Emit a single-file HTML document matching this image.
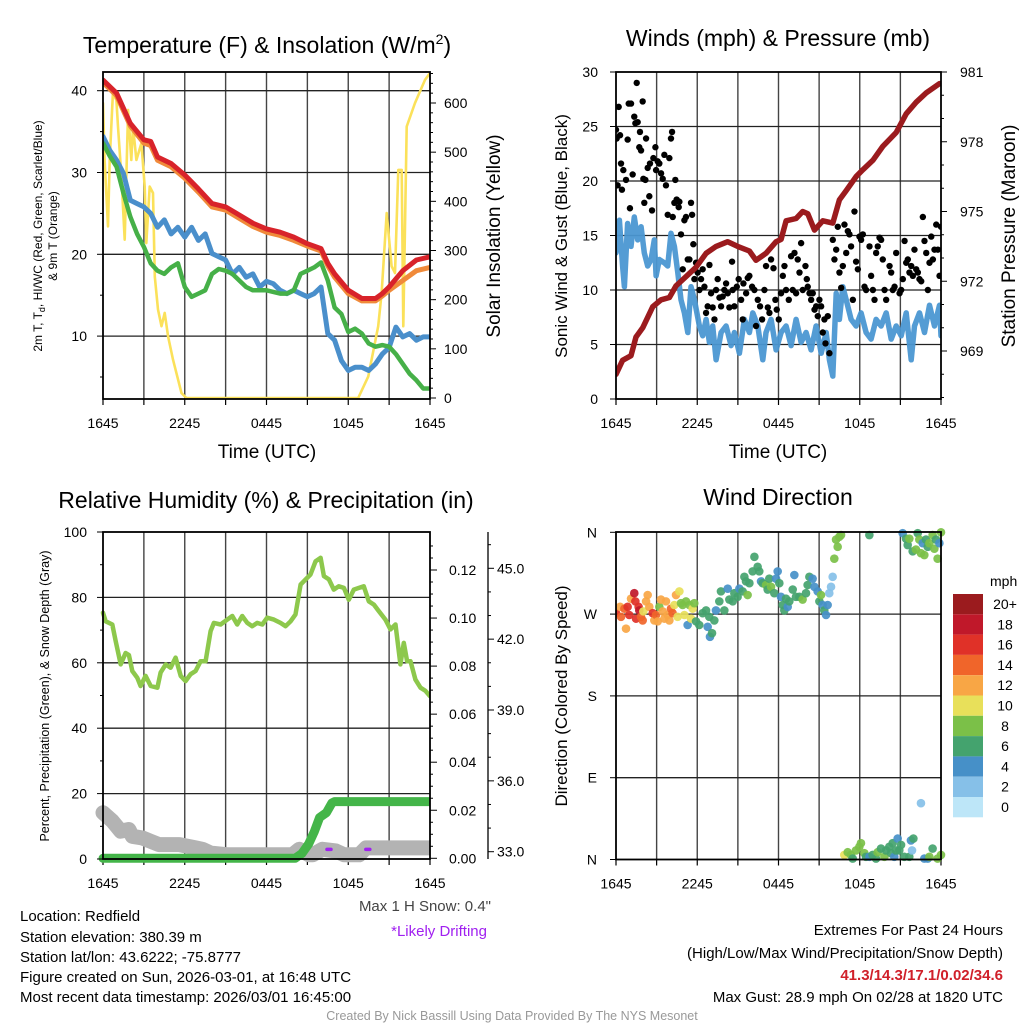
<!DOCTYPE html>
<html><head><meta charset="utf-8"><style>
html,body{margin:0;padding:0;background:#fff;}
svg{display:block;font-family:"Liberation Sans",Arial,sans-serif;}
</style></head><body>
<svg id="c" width="1024" height="1024" viewBox="0 0 1024 1024" xmlns="http://www.w3.org/2000/svg">
<rect width="1024" height="1024" fill="#fff"/>
<g id="g1"></g>
<g id="g2"></g>
<g id="g3"></g>
<g id="g4"></g>
<g font-size="23" text-anchor="middle" fill="#000">
<text x="267" y="53">Temperature (F) &amp; Insolation (W/m<tspan font-size="14" dy="-9">2</tspan><tspan dy="9">)</tspan></text>
<text x="778" y="46">Winds (mph) &amp; Pressure (mb)</text>
<text x="266" y="508">Relative Humidity (%) &amp; Precipitation (in)</text>
<text x="778" y="505">Wind Direction</text>
</g>
<g font-size="19" text-anchor="middle">
<text x="267" y="458">Time (UTC)</text>
<text x="778" y="458">Time (UTC)</text>
<text transform="translate(500,236) rotate(-90)">Solar Insolation (Yellow)</text>
<text transform="translate(1015,236) rotate(-90)">Station Pressure (Maroon)</text>
<text font-size="17" transform="translate(567,236) rotate(-90)">Sonic Wind &amp; Gust (Blue, Black)</text>
<text font-size="17" transform="translate(567,696) rotate(-90)">Direction (Colored By Speed)</text>
<text font-size="12" transform="translate(42,236) rotate(-90)">2m T, T<tspan font-size="9" dy="3">d</tspan><tspan dy="-3">, HI/WC (Red, Green, Scarlet/Blue)</tspan></text>
<text font-size="12" transform="translate(57,236) rotate(-90)">&amp; 9m T (Orange)</text>
<text font-size="12.5" transform="translate(49,696) rotate(-90)">Percent, Precipitation (Green), &amp; Snow Depth (Gray)</text>
</g>
<g font-size="15" fill="#000">
<text x="20" y="921">Location: Redfield</text>
<text x="20" y="942">Station elevation: 380.39 m</text>
<text x="20" y="962">Station lat/lon: 43.6222; -75.8777</text>
<text x="20" y="982">Figure created on Sun, 2026-03-01, at 16:48 UTC</text>
<text x="20" y="1002">Most recent data timestamp: 2026/03/01 16:45:00</text>
</g>
<text x="491" y="911" font-size="15" fill="#444" text-anchor="end">Max 1 H Snow: 0.4"</text>
<text x="487" y="936" font-size="15" fill="#a020f0" text-anchor="end">*Likely Drifting</text>
<g font-size="15" text-anchor="end">
<text x="1003" y="935">Extremes For Past 24 Hours</text>
<text x="1003" y="958">(High/Low/Max Wind/Precipitation/Snow Depth)</text>
<text x="1003" y="980" fill="#d0202a" font-weight="bold">41.3/14.3/17.1/0.02/34.6</text>
<text x="1003" y="1002">Max Gust: 28.9 mph On 02/28 at 1820 UTC</text>
</g>
<text x="512" y="1020" font-size="12.5" fill="#999" text-anchor="middle">Created By Nick Bassill Using Data Provided By The NYS Mesonet</text>
</svg>
<script>
// ---- Panel 1 data ----
const tempHours=[0,1,2,3,3.5,4,5,6,7,8,9,10,11,12,13,14,15,16,16.5,17,18,19,20,20.5,21,22,23,24];
const tempRed=[41.3,39.7,36,34,33.8,31.9,31.1,29.7,28,26.2,25.8,24.8,23.8,23.1,22.7,22.1,21.3,20.7,18.9,17.6,15.6,14.6,14.6,15.2,16,18,19.3,19.7];
const tempOrange=[41,39.4,35.7,33.6,33.3,31.5,30.7,29.3,27.6,25.8,25.4,24.4,23.4,22.7,22.3,21.7,21,20.4,18.6,17.2,15.2,14.3,14.3,14.9,15.6,16.8,18,18.4];
const halfHours=[0,0.5,1,1.5,2,2.5,3,3.5,4,4.5,5,5.5,6,6.5,7,7.5,8,8.5,9,9.5,10,10.5,11,11.5,12,12.5,13,13.5,14,14.5,15,15.5,16,16.5,17,17.5,18,18.5,19,19.5,20,20.5,21,21.5,22,22.5,23,23.5,24];
const hiwcBlue=[34.4,32.7,31.5,29.9,26.6,26.2,25.8,25,23.3,24.2,22.5,23.3,22.1,23.3,21.7,22.5,20.1,19.7,19.3,17.6,18.4,17.2,17.6,16,16.7,16.4,15.6,15.2,15.6,15.2,14.8,15.2,16,10.3,9.5,7,5.8,6.2,6.2,5.8,6.6,7.8,8.6,11.1,9.9,10.3,9.5,9.9,9.9];
const dewGreen=[33.6,32,30.7,27.5,24.6,22.5,20.9,18.9,18,17.6,18.4,18.9,16,14.8,15.2,15.6,17.6,18.2,18,17.6,16.8,16,15.6,15.6,15.6,15.4,15.2,15.2,15.6,17.6,18,18.4,19,16.8,13.5,12.7,10.5,10.9,10.3,9.1,8.7,8.9,8.7,7.8,6.6,5.4,4.6,3.6,3.6];
const solarHours=[0,0.12,0.37,0.49,0.73,0.98,1.1,1.35,1.59,1.84,2.08,2.2,2.45,2.82,3.06,3.18,3.43,3.67,3.8,4.04,4.29,4.53,4.78,5.14,5.76,6.12,18.73,19.47,20.2,20.45,20.82,21.18,21.43,21.67,21.92,22.04,22.29,22.9,23.63,24];
const solarVals=[600,484,349,484,620,606,552,451,322,586,484,552,484,518,430,315,430,417,247,180,146,173,125,78,10,0,0,44,146,213,376,268,254,464,464,146,552,600,647,661];
// ---- Panel 2 data ----
const presHours=[0,0.49,1.11,1.48,1.97,2.71,3.33,3.94,4.43,5.17,5.91,6.65,7.39,8.25,8.99,9.85,10.34,11.08,11.82,12.19,12.56,13.3,13.79,14.16,14.66,15.27,16.01,16.5,17,17.73,18.23,18.97,19.7,20.69,21.43,22.17,22.91,23.89,24];
const presVals=[968,968.6,968.8,969.6,970,970.9,971.2,971.3,971.8,972.2,972.6,973.2,973.5,973.7,973.5,973.3,972.9,973.2,973.7,973.8,974.6,974.7,975,974.9,974.2,974.6,974.5,975.5,975.9,976.5,976.8,977.2,977.8,978.4,979.2,979.7,980.1,980.5,980.5];
const windHours=[0,0.25,0.49,0.62,0.86,1.11,1.35,1.6,1.85,2.09,2.34,2.59,2.83,2.96,3.2,3.57,3.82,4.06,4.31,4.56,4.8,5.05,5.3,5.54,5.79,6.16,6.4,6.65,6.9,7.14,7.39,7.76,8.13,8.5,8.74,9.11,9.48,9.85,10.1,10.47,10.84,11.08,11.45,11.82,12.19,12.56,12.93,13.3,13.67,14.04,14.41,14.78,15.15,15.52,15.76,16.01,16.26,16.5,16.75,17,17.36,17.73,18.1,18.47,18.84,19.21,19.58,19.95,20.32,20.69,21.06,21.43,21.8,22.04,22.41,22.78,23.15,23.52,23.89,24];
const windVals=[13.4,16.4,12.2,10.3,16.1,14,16.7,14.6,15.8,13.4,12.2,12.8,14.6,11.3,12.8,12.5,12.2,15.2,14,11.6,9.1,7.9,6.1,10.3,9.1,6.7,5.8,7.3,5.2,6.7,3.6,6.1,6.7,4.9,6.1,4.2,7.3,6.1,7.9,6.7,3.6,6.1,7.3,4.5,6.1,6.7,4.9,7.3,5.2,6.1,4.5,6.7,4.2,6.1,3.6,2.1,9.7,7.3,10.3,9.1,7.3,6.7,7.9,6.1,5.5,7.3,6.7,7.9,5.5,6.7,5.8,7.9,3.6,6.7,7.9,6.1,8.6,6.7,8.6,5.8];
const gustHours=[0,0.05,0.2,0.3,0.12,0.44,0.37,0.54,0.74,0.86,0.94,1.03,1.11,1.23,1.35,1.43,1.53,1.6,1.72,1.77,1.85,1.97,2.02,2.17,2.22,2.09,2.34,2.46,2.51,2.66,2.76,2.91,2.96,3.08,3.2,3.33,3.45,3.57,3.69,3.82,3.94,4.06,4.14,4.19,4.31,4.38,4.48,4.63,4.68,4.8,4.93,5.05,5.17,5.3,5.42,5.54,5.62,5.71,5.79,5.91,6.03,6.16,6.28,6.4,6.53,6.65,6.77,6.9,7.02,7.14,7.27,7.39,7.51,7.64,7.76,7.88,8,8.13,8.25,8.37,8.57,8.62,8.74,8.92,9.06,9.24,9.36,9.41,9.61,9.73,9.85,10.05,10.22,10.34,10.47,10.64,10.79,10.96,11.08,11.21,11.33,11.45,11.63,11.77,11.87,12.02,12.19,12.32,12.44,12.56,12.76,12.93,13.05,13.18,13.3,13.42,13.55,13.67,13.79,13.99,14.09,14.16,14.29,14.41,14.53,14.66,14.78,14.9,15.02,15.15,15.27,15.39,15.47,15.64,15.76,16.01,16.13,16.26,16.38,16.5,16.63,16.75,16.87,17,17.12,17.24,17.36,17.49,17.61,17.73,17.86,17.98,18.1,18.23,18.35,18.47,18.72,18.84,18.97,19.09,19.21,19.33,19.46,19.58,19.7,19.83,19.95,20.2,20.32,20.44,20.57,20.69,20.94,21.06,21.18,21.31,21.43,21.55,21.67,21.8,21.92,22.04,22.17,22.29,22.41,22.54,22.66,22.78,22.91,23.03,23.15,23.28,23.4,23.52,23.65,23.77,23.89,24];
const gustVals=[24.7,23.9,26.8,24.2,19.6,19.2,21.6,21,20.1,23.8,27.1,17.5,27.1,20.6,25.9,25.3,29,25.4,23.1,24.5,22.8,27.3,20.2,20.1,23.9,18,21.2,18.6,21.6,17.3,22.1,23.1,21,21.8,21.6,20.7,20.2,22.4,19.6,16.9,22.1,23.9,24.5,16.7,18,20.1,18.3,17.6,18.1,15.1,11.9,16.4,16.7,12.8,12.8,18,16.9,14.2,11,12.5,11.6,10,11,11.9,10.3,7.9,8.5,12.3,9.7,8.4,7.3,10,11,9.3,8.5,9.4,10,10.6,9.7,8.4,12.6,10,8.5,10.3,11,9.1,7.3,10.6,9.7,11.1,11.3,10.3,10,6.7,9.1,8.5,7.3,10,12.2,8.4,7.9,12.8,12,9.1,8.2,7.3,9.7,11.3,12.2,10,9.1,13.1,10,13.4,9.7,12.8,11.6,14.3,10,12.2,11,10.3,9.7,9.1,9.7,8.2,8.5,7.6,9.1,8.5,6.1,7.3,5.1,7.6,4.2,14.6,12.8,13.7,15.8,11.6,10.2,12.2,16,13.4,15.4,15.1,14,9.1,17.2,12.6,11.9,14.9,14.6,15.1,10.3,10,14,11.3,10,9.1,13.4,14,14.8,14.6,12.8,10,9.1,12.2,11.6,10,10.3,13.4,9.7,10,11,14.5,12.5,12.8,11.6,12.2,11.3,13.7,11.9,11.6,11,10.8,16.7,14.5,13.4,10,12.5,14.9,12.8,13.7,16,13.7,11.3,15.8];
// ---- Panel 3 data ----
const rhHours=[0,0.2,0.68,0.93,1.3,1.66,1.9,2.15,2.52,2.76,3.13,3.5,3.99,4.23,4.6,4.96,5.33,5.7,6.06,6.43,6.8,7.16,7.53,7.9,8.14,8.63,9.12,9.49,9.85,10.22,10.59,10.95,11.32,11.69,12.05,12.54,13.03,13.4,13.77,14.13,14.5,14.87,15.23,15.6,15.97,16.21,16.58,16.94,17.31,17.68,18.04,18.41,18.78,19.14,19.51,19.88,20.24,20.73,21.1,21.47,21.83,22.08,22.32,22.57,22.93,23.3,23.67,24];
const rhVals=[75.3,72.7,71.7,66.6,59.5,63,62.4,57.5,55.4,52.9,56,52.9,52.4,57,59.5,58.5,61.6,56,54.4,56.5,57.5,60.5,60.5,69.7,72.2,71.7,73.2,74.3,71.7,74.3,72.2,71.2,72.2,71.7,73.8,73.2,72.2,71.2,72.7,74.8,83.9,85.5,87,91,92.1,86.5,85.5,82.4,83.4,82.9,79.3,82.4,82.9,83.4,78.8,77.8,75.8,73.2,70.2,71.7,59.5,66.1,60.5,60.5,54.9,52.4,51.4,49.8];
const precipHours=[0,14.1,14.6,15.1,15.5,15.9,16.4,16.8,17,24];
const precipVals=[0,0,0.002,0.006,0.011,0.017,0.019,0.023,0.0236,0.0236];
const snowHours=[0,0.68,1.3,1.9,2.15,2.9,3.5,4.1,5.6,6.8,7.3,7.9,9.2,13.9,14.4,15.1,15.4,16.1,17.1,17.7,18.8,19.3,24];
const snowVals=[34.65,34.3,33.87,33.94,33.65,33.58,33.44,33.3,33.3,33.16,33.1,32.94,32.87,32.87,33.1,32.87,32.87,33.1,33.03,32.87,32.87,33.16,33.16];
const driftHours=[16.55,19.4];
const driftVals=[33.1,33.1];
// ---- Panel 4 data ----
const dirHours=[0,0.3,0.37,0.62,0.74,0.86,0.98,1.11,1.35,1.43,1.48,1.67,1.72,1.85,1.97,2.02,2.22,2.34,2.46,2.71,2.83,2.95,3.08,3.2,3.32,3.45,3.57,3.69,3.82,3.94,4.06,4.18,4.31,4.43,4.55,4.68,4.8,4.92,5.05,5.17,5.29,5.42,5.54,5.66,5.78,5.91,6.15,6.4,6.65,6.77,6.89,6.94,7.09,7.26,7.38,7.63,7.75,8,8.25,8.37,8.62,8.74,8.98,9.11,9.35,9.48,9.6,9.72,9.85,10.09,10.22,10.46,10.58,10.71,10.83,11.08,11.2,11.32,11.45,11.69,11.82,11.94,12.06,12.18,12.31,12.43,12.55,12.68,12.8,13.05,13.17,13.29,13.54,13.78,14.03,14.15,14.28,14.52,14.65,14.89,15.02,15.14,15.26,15.38,15.51,15.63,15.75,15.88,16,16.12,16.25,16.37,16.49,16.62,18.71,21.17,21.42,21.54,21.66,21.91,22.15,22.28,22.4,22.52,22.65,22.77,22.89,23.02,23.14,23.38,23.51,23.63,23.75,23.88,24,24,16.86,17.11,17.35,17.48,17.72,17.97,18.09,18.34,18.46,18.71,18.95,19.2,19.32,19.57,19.82,19.94,20.18,20.31,20.43,20.55,20.68,20.8,20.92,21.05,21.29,21.66,21.78,21.86,21.96,22.52,22.77,23.02,23.14,23.38,23.75];
const dirVals=[271,278,267,276,254,278,269,287,293,284,265,278,274,267,263,273,284,291,278,271,263,269,262,278,286,273,265,284,269,263,276,271,280,291,267,295,282,280,269,284,258,280,265,276,282,262,258,271,274,256,267,245,249,263,274,284,295,274,298,286,284,293,289,298,295,311,306,291,304,317,333,322,317,306,304,302,297,309,300,293,309,317,304,289,280,274,287,278,284,297,313,289,289,286,293,302,311,309,300,295,284,291,280,274,269,280,293,300,311,331,352,344,355,357,357,359,353,346,353,339,341,359,352,337,348,335,352,344,348,357,342,352,331,348,360,365,5,8,5,1,10,14,18,7,3,3,5,1,8,12,3,10,14,7,18,3,10,23,10,16,3,3,21,10,23,62,1,1,3,12,1];
const dirSpeeds=[16.5,12.5,14.5,14.5,12.5,16.5,16.5,12.5,18.5,16.5,16.5,16.5,18.5,14.5,14.5,10.5,12.5,12.5,12.5,16.5,12.5,14.5,12.5,8.5,12.5,12.5,12.5,12.5,12.5,12.5,14.5,14.5,10.5,12.5,10.5,10.5,8.5,8.5,10.5,8.5,4.5,8.5,10.5,10.5,8.5,6.5,6.5,6.5,6.5,4.5,6.5,4.5,6.5,6.5,4.5,6.5,6.5,6.5,4.5,6.5,6.5,6.5,6.5,4.5,6.5,6.5,6.5,8.5,6.5,6.5,6.5,6.5,6.5,4.5,6.5,8.5,6.5,6.5,8.5,6.5,4.5,4.5,6.5,4.5,6.5,6.5,6.5,4.5,6.5,6.5,4.5,6.5,6.5,8.5,6.5,6.5,6.5,4.5,4.5,4.5,6.5,8.5,4.5,6.5,4.5,4.5,2.5,2.5,2.5,8.5,8.5,8.5,8.5,8.5,6.5,4.5,6.5,6.5,8.5,6.5,8.5,6.5,8.5,8.5,4.5,8.5,6.5,6.5,8.5,8.5,8.5,6.5,8.5,4.5,8.5,8.5,10.5,8.5,8.5,6.5,8.5,8.5,8.5,8.5,6.5,4.5,6.5,6.5,8.5,6.5,8.5,6.5,6.5,6.5,6.5,4.5,6.5,4.5,6.5,6.5,6.5,6.5,4.5,2.5,6.5,2.5,4.5,4.5,8.5,6.5,8.5,8.5];
const speedBins=["0","2","4","6","8","10","12","14","16","18","20+"];
const speedColors=["#bde6f8","#86c0e8","#4690c8","#44a36e","#7bc048","#e8e05a","#f8a645","#f0652a","#e03128","#c0182a","#9b1b1e"];
const timeTickLabels=["1645","2245","0445","1045","1645"];
const tempTicks=[10,20,30,40];
const solarTicks=[0,100,200,300,400,500,600];
const windTicks=[0,5,10,15,20,25,30];
const presTicks=[969,972,975,978,981];
const pctTicks=[0,20,40,60,80,100];
const precipTicks=[0,0.02,0.04,0.06,0.08,0.10,0.12];
const snowTicks=[33,36,39,42,45];
const dirTicks=[0,90,180,270,360];
const dirLabels=["N","E","S","W","N"];

const NS="http://www.w3.org/2000/svg";
function mk(parent,tag,attrs){const e=document.createElementNS(NS,tag);for(const k in attrs)e.setAttribute(k,attrs[k]);parent.appendChild(e);return e;}
function lin(d0,d1,r0,r1){return v=>r0+(v-d0)*(r1-r0)/(d1-d0);}
function pathD(xs,ys,fx,fy){return xs.map((h,i)=>(i?"L":"M")+fx(h).toFixed(1)+" "+fy(ys[i]).toFixed(1)).join(" ");}

function frame(g,x0,x1,y0,y1,fx,hLines,idx){
  const grid=mk(g,"g",{});
  
  
  for(let h=3;h<24;h+=3){const l=mk(grid,"line",{x1:fx(h),x2:fx(h),y1:y0,y2:y1,stroke:"#444","stroke-width":1.4});}
  hLines.forEach(y=>{mk(grid,"line",{x1:x0,x2:x1,y1:y,y2:y,stroke:"#222","stroke-width":1.3});});
  const xt=mk(g,"g",{"font-size":14,"text-anchor":"middle"});
  
  
  for(let h=0;h<=24;h+=3){mk(xt,"line",{x1:fx(h),x2:fx(h),y1:y1,y2:y1+6,stroke:"#000","stroke-width":1.2});}
  timeTickLabels.forEach((s,i)=>{const t=mk(xt,"text",{x:fx(i*6),y:y1+29});t.textContent=s;
    
    });
}
function border(g,x0,x1,y0,y1){
  const r=mk(g,"rect",{x:x0,y:y0,width:x1-x0,height:y1-y0,fill:"none",stroke:"#000","stroke-width":1.8});
  
  
}
function clipRect(id,x0,x1,y0,y1){const svg=document.getElementById('c');let d=svg.querySelector('defs')||mk(svg,"defs",{});const cp=mk(d,"clipPath",{id:id});mk(cp,"rect",{x:x0,y:y0,width:x1-x0,height:y1-y0});}

// ===== Panel 1 =====
(function(){
  const g=document.getElementById('g1');
  const x0=103,x1=430,y0=72,y1=399;
  const fx=lin(0,24,x0,x1), fy=lin(40,10,90.7,336.1), fs=lin(0,600,398,103);
  frame(g,x0,x1,y0,y1,fx,tempTicks.map(fy),1);
  clipRect("cp1",x0,x1,y0,y1);
  const d=mk(g,"g",{"clip-path":"url(#cp1)",fill:"none","stroke-linejoin":"round","stroke-linecap":"round"});
  let p;
  p=mk(d,"path",{d:pathD(solarHours,solarVals,fx,fs),stroke:"#fbe15a","stroke-width":2.6});
  
  
  p=mk(d,"path",{d:pathD(halfHours,hiwcBlue,fx,fy),stroke:"#4a8fcb","stroke-width":5});
  
  
  p=mk(d,"path",{d:pathD(halfHours,dewGreen,fx,fy),stroke:"#46b048","stroke-width":4.5});
  
  
  p=mk(d,"path",{d:pathD(tempHours,tempOrange,fx,fy),stroke:"#f08a3a","stroke-width":5});
  
  
  p=mk(d,"path",{d:pathD(tempHours,tempRed,fx,fy),stroke:"#d8232a","stroke-width":5});
  
  
  border(g,x0,x1,y0,y1);
  const ax=mk(g,"g",{"font-size":14});
  
  
  for(let v=5;v<=40;v+=5){mk(ax,"line",{x1:x0-(v%10?3:6),x2:x0,y1:fy(v),y2:fy(v),stroke:"#000"});}
  tempTicks.forEach(v=>{const t=mk(ax,"text",{x:87,y:fy(v)+5,"text-anchor":"end"});t.textContent=v;});
  for(let v=0;v<=660;v+=20){mk(ax,"line",{x1:x1,x2:x1+(v%100?3:6),y1:fs(v),y2:fs(v),stroke:"#000"});}
  solarTicks.forEach(v=>{const t=mk(ax,"text",{x:444,y:fs(v)+5});t.textContent=v;});
})();

// ===== Panel 2 =====
(function(){
  const g=document.getElementById('g2');
  const x0=616,x1=941,y0=72,y1=399;
  const fx=lin(0,24,x0,x1), fy=lin(0,30,399,72), fp=lin(969,981,351,72);
  frame(g,x0,x1,y0,y1,fx,[5,10,15,20,25].map(fy),2);
  clipRect("cp2",x0,x1,y0,y1);
  const d=mk(g,"g",{"clip-path":"url(#cp2)",fill:"none","stroke-linejoin":"round","stroke-linecap":"round"});
  let p=mk(d,"path",{d:pathD(windHours,windVals,fx,fy),stroke:"#4b97d2","stroke-width":5.5,"stroke-opacity":0.95});
  
  
  const dots=mk(d,"g",{fill:"#000"});
  
  
  gustHours.forEach((h,i)=>{const c=mk(dots,"circle",{cx:fx(h),cy:fy(gustVals[i]),r:3.2});
    
    });
  p=mk(d,"path",{d:pathD(presHours,presVals,fx,fp),stroke:"#9b1b1e","stroke-width":5.5});
  
  
  border(g,x0,x1,y0,y1);
  const ax=mk(g,"g",{"font-size":14});
  
  
  windTicks.forEach(v=>{mk(ax,"line",{x1:x0-6,x2:x0,y1:fy(v),y2:fy(v),stroke:"#000"});
    const t=mk(ax,"text",{x:598,y:fy(v)+5,"text-anchor":"end"});t.textContent=v;});
  for(let v=967;v<=981;v++){mk(ax,"line",{x1:x1,x2:x1+((v-969)%3?3:6),y1:fp(v),y2:fp(v),stroke:"#000"});}
  presTicks.forEach(v=>{const t=mk(ax,"text",{x:960,y:fp(v)+5});t.textContent=v;});
})();

// ===== Panel 3 =====
(function(){
  const g=document.getElementById('g3');
  const x0=103,x1=430,y0=532,y1=859;
  const fx=lin(0,24,x0,x1), fy=lin(0,100,859,532), fr=lin(0,0.12,858.3,570), fsn=lin(33,45,851.7,568.3);
  frame(g,x0,x1,y0,y1,fx,[20,40,60,80].map(fy),3);
  clipRect("cp3",x0-10,x1,y0,y1+8);
  const d=mk(g,"g",{"clip-path":"url(#cp3)",fill:"none","stroke-linejoin":"round","stroke-linecap":"round"});
  let p=mk(d,"path",{d:pathD(snowHours,snowVals,fx,fsn),stroke:"#b3b3b3","stroke-width":15});
  
  
  driftHours.forEach((h,i)=>{const m=mk(d,"line",{x1:fx(h)-1.5,x2:fx(h)+2.5,y1:fsn(driftVals[i]),y2:fsn(driftVals[i]),stroke:"#a020f0","stroke-width":3.5});
    
    });
  p=mk(d,"path",{d:pathD(precipHours,precipVals,fx,fr),stroke:"#44b549","stroke-width":9});
  
  
  p=mk(d,"path",{d:pathD(rhHours,rhVals,fx,fy),stroke:"#8dc84c","stroke-width":4.5});
  
  
  border(g,x0,x1,y0,y1);
  const ax=mk(g,"g",{"font-size":14});
  
  
  for(let v=0;v<=100;v+=10){mk(ax,"line",{x1:x0-(v%20?3:6),x2:x0,y1:fy(v),y2:fy(v),stroke:"#000"});}
  pctTicks.forEach(v=>{const t=mk(ax,"text",{x:87,y:fy(v)+5,"text-anchor":"end"});t.textContent=v;});
  for(let k=0;k<=26;k++){const v=k*0.005;mk(ax,"line",{x1:x1,x2:x1+(k%4?3:0),y1:fr(v),y2:fr(v),stroke:"#000"});}
  precipTicks.forEach(v=>{mk(ax,"line",{x1:x1,x2:x1+7,y1:fr(v),y2:fr(v),stroke:"#000"});
    const t=mk(ax,"text",{x:449,y:fr(v)+5});t.textContent=v.toFixed(2);});
  mk(ax,"line",{x1:488,x2:488,y1:532,y2:859,stroke:"#000","stroke-width":1.3});
  for(let v=33;v<=46;v++){mk(ax,"line",{x1:488,x2:488+((v%3)?3:6),y1:fsn(v),y2:fsn(v),stroke:"#000"});}
  snowTicks.forEach(v=>{const t=mk(ax,"text",{x:497,y:fsn(v)+5});t.textContent=v.toFixed(1);});
})();

// ===== Panel 4 =====
(function(){
  const g=document.getElementById('g4');
  const x0=616,x1=941,y0=532,y1=859.5;
  const fx=lin(0,24,x0,x1), fd=lin(0,360,859.5,532.3);
  frame(g,x0,x1,y0,y1,fx,[90,180,270].map(fd),4);
  clipRect("cp4",x0,x1+6,y0-6,y1+6);
  const d=mk(g,"g",{"clip-path":"url(#cp4)"});
  
  
  function col(s){let k=Math.min(10,Math.max(0,Math.floor(s/2)));return speedColors[k];}
  dirHours.forEach((h,i)=>{let v=dirVals[i];if(v>360)v-=360;
    const c=mk(d,"circle",{cx:fx(h),cy:fd(v),r:4.3,fill:col(dirSpeeds[i]),"fill-opacity":0.92});
    
    });
  border(g,x0,x1,y0,y1);
  const ax=mk(g,"g",{"font-size":14});
  
  
  dirTicks.forEach((v,i)=>{mk(ax,"line",{x1:x0-6,x2:x0,y1:fd(v),y2:fd(v),stroke:"#000"});
    const t=mk(ax,"text",{x:597,y:fd(v)+5,"text-anchor":"end"});t.textContent=dirLabels[i];});
  const cb=mk(g,"g",{"font-size":14});
  
  
  const t0=mk(cb,"text",{x:990,y:586});t0.textContent="mph";
  for(let k=10;k>=0;k--){const row=10-k;const yy=594+row*20.3;
    const r=mk(cb,"rect",{x:953,y:yy,width:30,height:20.3,fill:speedColors[k]});
    
    
    const t=mk(cb,"text",{x:1005,y:yy+15,"text-anchor":"middle"});t.textContent=speedBins[k];}
})();
</script>
</body></html>
